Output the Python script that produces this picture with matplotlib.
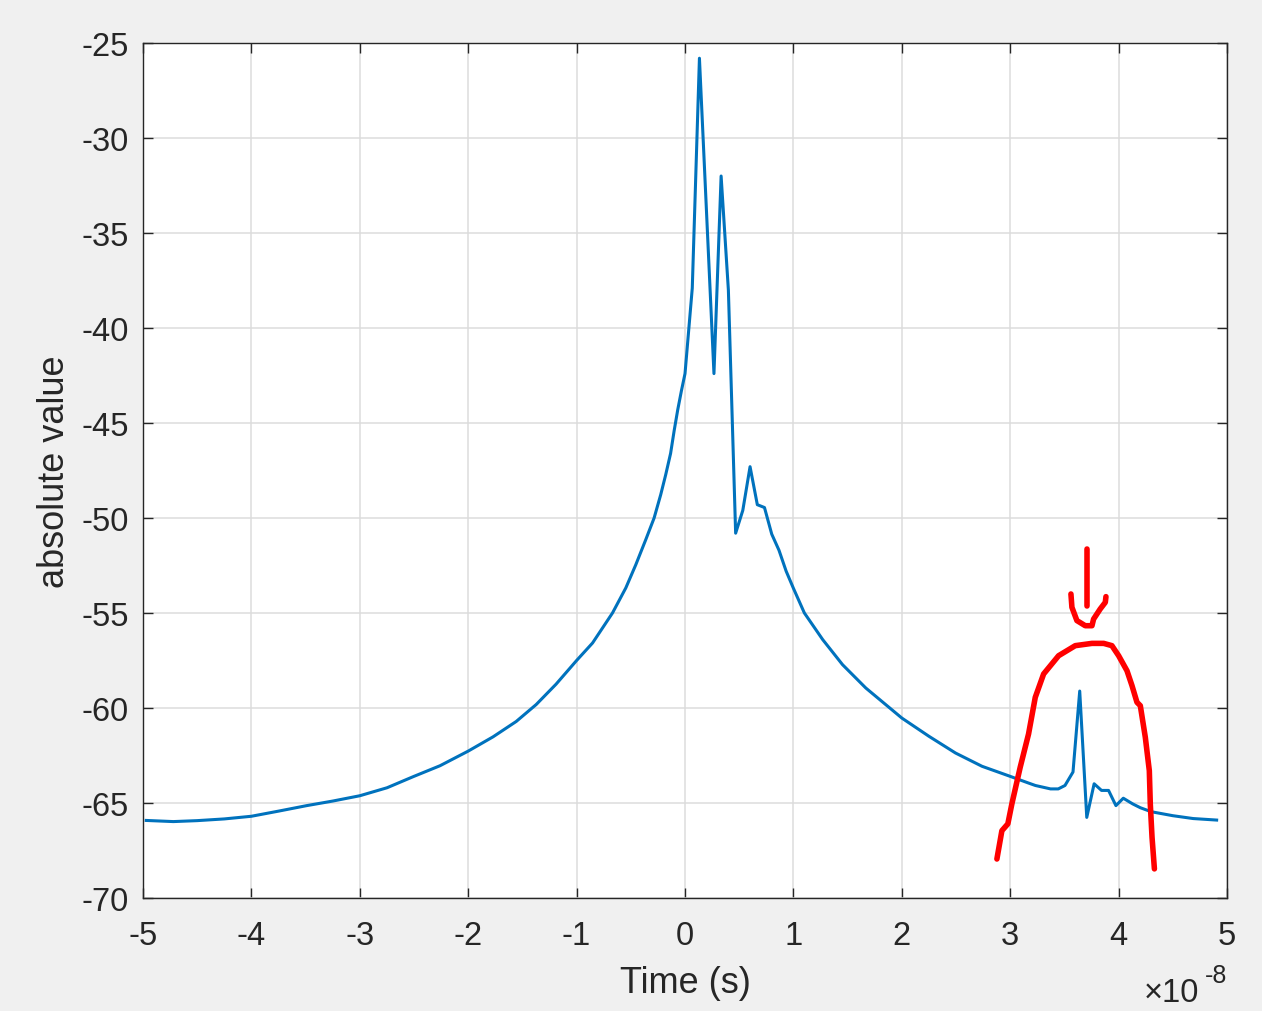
import numpy as np
import matplotlib.pyplot as plt
from matplotlib.ticker import FuncFormatter

plt.rcParams['font.family'] = ['Liberation Sans', 'DejaVu Sans']
plt.rcParams['axes.unicode_minus'] = False

# time axis in units of 1e-8 s
t_e8 = [-4.97, -4.72, -4.5, -4.25, -4.0, -3.75, -3.49, -3.25, -3.0, -2.749,
        -2.505, -2.26, -2.0, -1.771, -1.557, -1.373, -1.19, -1.0, -0.853, -0.669,
        -0.546, -0.454, -0.362, -0.285, -0.224, -0.178, -0.133, -0.1, -0.067, -0.033,
        0.0, 0.067, 0.133, 0.2, 0.267, 0.333, 0.4, 0.467, 0.533, 0.6,
        0.667, 0.733, 0.8, 0.867, 0.933, 1.0, 1.101, 1.27, 1.453, 1.668,
        2.0, 2.25, 2.495, 2.74, 3.0, 3.168, 3.232, 3.372, 3.443, 3.505,
        3.579, 3.641, 3.706, 3.774, 3.842, 3.907, 3.975, 4.043, 4.13, 4.2,
        4.3, 4.5, 4.687, 4.904]
value = [-65.92, -65.98, -65.93, -65.84, -65.7, -65.43, -65.14, -64.9, -64.62, -64.2,
         -63.61, -63.04, -62.27, -61.52, -60.71, -59.82, -58.75, -57.5, -56.58, -55.0,
         -53.68, -52.46, -51.14, -50.0, -48.77, -47.72, -46.6, -45.4, -44.3, -43.3,
         -42.4, -37.9, -25.8, -34.1, -42.4, -32.0, -38.0, -50.8, -49.6, -47.3,
         -49.3, -49.45, -50.85, -51.7, -52.8, -53.7, -55.0, -56.4, -57.72, -58.95,
         -60.53, -61.49, -62.37, -63.07, -63.6, -63.95, -64.08, -64.26, -64.26, -64.08,
         -63.37, -59.11, -65.76, -63.99, -64.34, -64.34, -65.14, -64.75, -65.05, -65.25,
         -65.46, -65.67, -65.82, -65.9]

# hand-drawn red marks (arch, arrow shaft, arrow head)
arch_x = [2.877, 2.923, 2.978, 3.015, 3.092, 3.169, 3.231, 3.308, 3.446, 3.6,
          3.754, 3.862, 3.938, 4.0, 4.077, 4.123, 4.169, 4.2, 4.246, 4.283,
          4.292, 4.308, 4.33]
arch_y = [-67.95, -66.46, -66.1, -65.05, -63.12, -61.37, -59.44, -58.21, -57.25, -56.72,
          -56.6, -56.6, -56.72, -57.25, -58.04, -58.82, -59.7, -59.88, -61.54, -63.3,
          -65.05, -66.8, -68.47]
shaft_x = [3.708, 3.708]
shaft_y = [-51.63, -54.61]
head_x = [3.56, 3.569, 3.615, 3.692, 3.754, 3.769, 3.83, 3.877, 3.883]
head_y = [-54.0, -54.7, -55.4, -55.67, -55.67, -55.32, -54.79, -54.44, -54.14]

xticks = [-5, -4, -3, -2, -1, 0, 1, 2, 3, 4, 5]
yticks = [-70, -65, -60, -55, -50, -45, -40, -35, -30, -25]

scale = 1e-8
fig = plt.figure(figsize=(12.62, 10.12), dpi=100, facecolor='#f0f0f0')
ax = fig.add_axes([0.1133, 0.1117, 0.859, 0.8448])

ax.plot(np.array(t_e8) * scale, value, color='#0072BD', lw=2.2)
red = dict(color='#ff0000', lw=4.0, solid_capstyle='round', solid_joinstyle='round')
ax.plot(np.array(arch_x) * scale, arch_y, **red)
ax.plot(np.array(shaft_x) * scale, shaft_y, **red)
ax.plot(np.array(head_x) * scale, head_y, **red)

ax.set_xlim(-5 * scale, 5 * scale)
ax.set_ylim(-70, -25)
ax.set_xticks([v * scale for v in xticks])
ax.xaxis.set_major_formatter(FuncFormatter(lambda v, p: f"{v / scale:.0f}"))
ax.set_yticks(yticks)

ax.grid(True, color='#dcdcdc', lw=1.1)
ax.set_axisbelow(True)
for s in ax.spines.values():
    s.set_color('#262626')
    s.set_linewidth(1.0)
ax.tick_params(direction='in', length=7, width=1.0, color='#262626',
               labelcolor='#262626', labelsize=23.5, top=True, right=True)
ax.tick_params(axis='x', pad=16)
ax.tick_params(axis='y', pad=10)

ax.set_xlabel('Time (s)', fontsize=26, color='#262626', labelpad=10)
ax.set_ylabel('absolute value', fontsize=26, color='#262626', labelpad=7)

# exponent label at the lower right, MATLAB style
fig.text(0.9065, 0.0095, '\u00d710', fontsize=23.5, color='#262626', ha='left', va='baseline')
fig.text(0.9545, 0.029, '-8', fontsize=18, color='#262626', ha='left', va='baseline')

plt.savefig('out.png', dpi=100, facecolor=fig.get_facecolor())
